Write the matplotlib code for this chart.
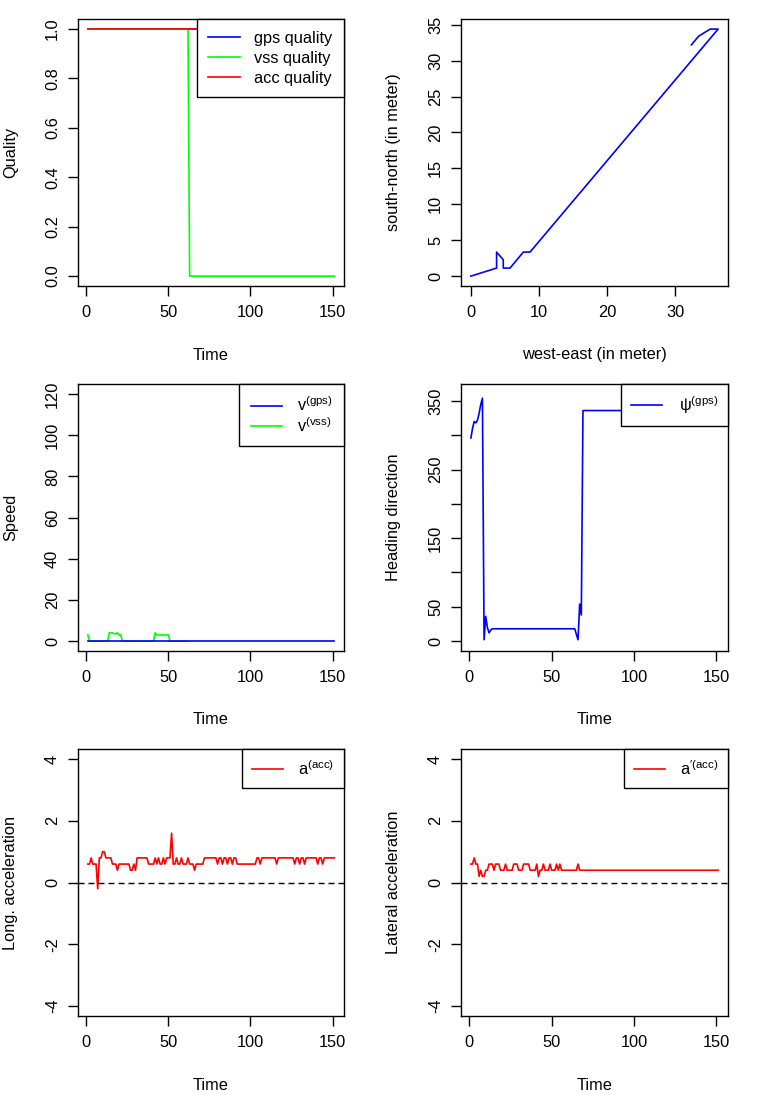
import numpy as np
import matplotlib
matplotlib.use("Agg")
import matplotlib.pyplot as plt

plt.rcParams["font.family"] = ["Liberation Sans", "DejaVu Sans"]
plt.rcParams["mathtext.fontset"] = "custom"
plt.rcParams["mathtext.rm"] = "Liberation Sans"
plt.rcParams["mathtext.it"] = "Liberation Sans"
plt.rcParams["axes.unicode_minus"] = False

# ---- data ----
time = np.arange(1, 152)

# quality flags as (value, run length)
gps_quality_runs = [(1, 151)]
vss_quality_runs = [(1, 62), (0, 89)]
acc_quality_runs = [(1, 151)]

# trajectory (meters)
west_east = [0, 3.77, 3.77, 4.75, 4.75, 5.74, 7.7, 8.68, 36.27, 35.1, 33.4, 32.35]
south_north = [0, 1.12, 3.35, 2.28, 1.12, 1.12, 3.35, 3.35, 34.4, 34.4, 33.4, 32.2]

# speed
speed_gps_runs = [(0, 151)]
speed_vss = [3, 0, 0, 0, 0, 0, 0, 0, 0, 0, 0, 0, 0, 4, 4, 4, 3.6, 3.5, 4, 3,
             3, 0, 0, 0, 0, 0, 0, 0, 0, 0, 0, 0, 0, 0, 0, 0, 0, 0, 0, 0,
             0, 4, 3, 3, 3, 3, 3, 3, 3, 3, 0, 0, 0, 0, 0, 0, 0, 0, 0, 0,
             0, 0]

# heading (degrees)
heading_start = [296, 310, 320, 318, 322, 332, 345, 354, 2, 36, 20, 12, 16]
heading_mid = (18, 51)      # value, run length (t = 14..64)
heading_turn = [10, 2, 54, 38]
heading_end = (336, 83)     # t = 69..151

# longitudinal acceleration
long_acc = [0.6, 0.6, 0.8, 0.6, 0.6, 0.6, -0.2, 0.8, 0.8, 1.0,
            1.0, 0.8, 0.8, 0.8, 0.8, 0.6, 0.6, 0.6, 0.4, 0.6,
            0.6, 0.6, 0.6, 0.6, 0.6, 0.6, 0.4, 0.4, 0.6, 0.4,
            0.8, 0.8, 0.8, 0.8, 0.8, 0.8, 0.8, 0.6, 0.6, 0.6,
            0.6, 0.8, 0.6, 0.8, 0.6, 0.6, 0.8, 0.6, 0.8, 0.8,
            0.8, 1.6, 0.6, 0.6, 0.8, 0.6, 0.6, 0.8, 0.6, 0.6,
            0.6, 0.8, 0.6, 0.6, 0.6, 0.4, 0.6, 0.6, 0.6, 0.6,
            0.6, 0.8, 0.8, 0.8, 0.8, 0.8, 0.8, 0.8, 0.8, 0.6,
            0.8, 0.8, 0.6, 0.8, 0.8, 0.6, 0.8, 0.8, 0.6, 0.8,
            0.8, 0.6, 0.6, 0.6, 0.6, 0.6, 0.6, 0.6, 0.6, 0.6,
            0.6, 0.6, 0.6, 0.8, 0.8, 0.6, 0.8, 0.8, 0.8, 0.8,
            0.8, 0.8, 0.8, 0.8, 0.8, 0.6, 0.8, 0.8, 0.8, 0.8,
            0.8, 0.8, 0.8, 0.8, 0.8, 0.8, 0.6, 0.8, 0.8, 0.6,
            0.8, 0.8, 0.6, 0.8, 0.8, 0.8, 0.8, 0.8, 0.8, 0.8,
            0.6, 0.8, 0.8, 0.6, 0.8, 0.8, 0.8, 0.8, 0.8, 0.8,
            0.8]

# lateral acceleration
lat_acc_start = [0.6, 0.6, 0.8, 0.6, 0.6, 0.2, 0.4, 0.2, 0.2, 0.4,
                 0.4, 0.6, 0.6, 0.6, 0.4, 0.6, 0.6, 0.6, 0.4, 0.4,
                 0.4, 0.6, 0.4, 0.4, 0.4, 0.4, 0.6, 0.6, 0.6, 0.4,
                 0.4, 0.4, 0.6, 0.6, 0.6, 0.6, 0.4, 0.4, 0.4, 0.4,
                 0.6, 0.2, 0.4, 0.4, 0.6, 0.4, 0.4, 0.4, 0.6, 0.4,
                 0.4, 0.4, 0.6, 0.4, 0.6, 0.4, 0.4, 0.4, 0.4, 0.4,
                 0.4, 0.4, 0.4, 0.4, 0.4, 0.6, 0.4]
lat_acc_end = (0.4, 84)


def expand(runs):
    vals, counts = zip(*runs)
    return np.repeat(vals, counts)


gps_quality = expand(gps_quality_runs)
vss_quality = expand(vss_quality_runs)
acc_quality = expand(acc_quality_runs)
speed_gps = expand(speed_gps_runs)
heading = np.concatenate([heading_start, expand([heading_mid]), heading_turn,
                          expand([heading_end])])
lat_acc = np.concatenate([lat_acc_start, expand([lat_acc_end])])

# ---- figure ----
W, H = 766, 1095
fig = plt.figure(figsize=(W / 100, H / 100), dpi=100)
FS = 11.8
LW = 1.0     # frame / ticks
DLW = 1.2    # data lines


def make_axes(col, row):
    left = [78, 461][col]
    top = 19.2 + 365 * row
    bottom = 286 + 365 * row
    width = [266, 267][col]
    return fig.add_axes([left / W, 1 - bottom / H, width / W, (bottom - top) / H])


def style(ax, xlabel, ylabel):
    for s in ax.spines.values():
        s.set_linewidth(LW)
    ax.tick_params(direction="out", length=7, width=LW, labelsize=FS)
    ax.tick_params(axis="x", pad=7)
    ax.tick_params(axis="y", pad=6, labelrotation=90)
    for lab in ax.get_yticklabels():
        lab.set_va("center")
    ax.set_xlabel(xlabel, fontsize=FS, va="center")
    ax.set_ylabel(ylabel, fontsize=FS, va="center")
    h = ax.get_position().height * H
    w = ax.get_position().width * W
    ax.xaxis.set_label_coords(0.5, -69 / h)
    ax.yaxis.set_label_coords(-67 / w, 0.5)


def legend(ax, **kw):
    opts = dict(loc="upper right", fontsize=FS, frameon=True, fancybox=False,
                edgecolor="black", framealpha=1, borderaxespad=0,
                handlelength=1.9, handletextpad=0.9)
    opts.update(kw)
    leg = ax.legend(**opts)
    leg.get_frame().set_linewidth(LW)
    return leg


time_lim = (-5, 157)
time_ticks = [0, 50, 100, 150]

# quality
ax = make_axes(0, 0)
ax.plot(time, gps_quality, color="#0000FF", lw=DLW, label="gps quality")
ax.plot(time, vss_quality, color="#00FF00", lw=DLW, label="vss quality")
ax.plot(time, acc_quality, color="#FF0000", lw=DLW, label="acc quality")
ax.set_xlim(time_lim)
ax.set_xticks(time_ticks)
ax.set_ylim(-0.04, 1.04)
ax.set_yticks([0, 0.2, 0.4, 0.6, 0.8, 1.0])
ax.set_yticklabels(["0.0", "0.2", "0.4", "0.6", "0.8", "1.0"])
style(ax, "Time", "Quality")
legend(ax, borderpad=0.7, labelspacing=0.3)

# trajectory
ax = make_axes(1, 0)
ax.plot(west_east, south_north, color="#0000FF", lw=DLW)
ax.margins(0.04)
ax.set_xticks([0, 10, 20, 30])
ax.set_yticks(np.arange(0, 36, 5))
style(ax, "west-east (in meter)", "south-north (in meter)")

# speed
ax = make_axes(0, 1)
ax.plot(time[:len(speed_vss)], speed_vss, color="#00FF00", lw=DLW, zorder=2)
ax.plot(time, speed_gps, color="#0000FF", lw=DLW, zorder=3)
ax.set_xlim(time_lim)
ax.set_xticks(time_ticks)
ax.set_ylim(-4.8, 124.8)
ax.set_yticks(np.arange(0, 121, 20))
style(ax, "Time", "Speed")
h1, = ax.plot([], [], color="#0000FF", lw=DLW, label=r"$\mathregular{v^{(gps)}}$")
h2, = ax.plot([], [], color="#00FF00", lw=DLW, label=r"$\mathregular{v^{(vss)}}$")
legend(ax, handles=[h1, h2], borderpad=0.7, labelspacing=0.1)

# heading
ax = make_axes(1, 1)
ax.plot(time, heading, color="#0000FF", lw=DLW, label=r"$\mathregular{\psi^{(gps)}}$")
ax.set_xlim(time_lim)
ax.set_xticks(time_ticks)
ax.set_ylim(-14.4, 374.4)
ax.set_yticks(np.arange(0, 351, 50))
ax.set_yticklabels(["0", "50", "", "150", "", "250", "", "350"])
style(ax, "Time", "Heading direction")
legend(ax, borderpad=0.6, handletextpad=1.0)

# longitudinal acceleration
ax = make_axes(0, 2)
ax.plot(time, long_acc, color="#FF0000", lw=DLW, label=r"$\mathregular{a^{(acc)}}$")
ax.axhline(0, color="black", lw=LW, linestyle=(0, (4.3, 2.9)))
ax.set_xlim(time_lim)
ax.set_xticks(time_ticks)
ax.set_ylim(-4.32, 4.32)
ax.set_yticks([-4, -2, 0, 2, 4])
style(ax, "Time", "Long. acceleration")
legend(ax, borderpad=0.6)

# lateral acceleration
ax = make_axes(1, 2)
ax.plot(time, lat_acc, color="#FF0000", lw=DLW, label=r"$\mathregular{a^{\prime(acc)}}$")
ax.axhline(0, color="black", lw=LW, linestyle=(0, (4.3, 2.9)))
ax.set_xlim(time_lim)
ax.set_xticks(time_ticks)
ax.set_ylim(-4.32, 4.32)
ax.set_yticks([-4, -2, 0, 2, 4])
style(ax, "Time", "Lateral acceleration")
legend(ax, borderpad=0.6)

fig.savefig("out.png", dpi=100)
